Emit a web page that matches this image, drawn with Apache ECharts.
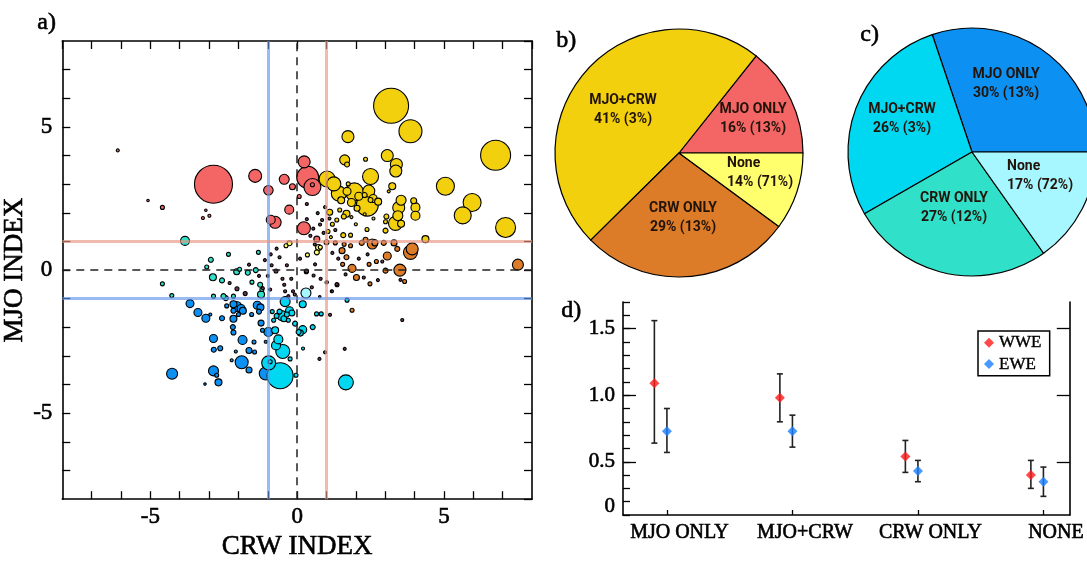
<!DOCTYPE html>
<html><head><meta charset="utf-8">
<script src="https://cdn.jsdelivr.net/npm/echarts@6/dist/echarts.min.js"></script>
<style>html,body{margin:0;padding:0;background:#fff}#c{width:1087px;height:566px}</style>
</head><body><div id="c"></div>
<script>
// ---------- Panel a: scatter [CRW index, MJO index, amplitude] ----------
const wweBoth = [[3.20,5.74,35],[3.86,4.85,23],[6.76,4.01,30],[1.73,4.66,12],[5.05,2.93,18],[5.96,2.36,18],[5.64,1.91,17],[7.10,1.49,20],[3.07,4.00,12],[3.38,3.69,12],[3.36,3.46,12],[1.62,3.85,10],[1.70,3.69,5],[2.33,3.87,4],[2.50,3.27,16],[3.24,2.93,7],[3.12,2.75,3],[1.02,3.18,16],[1.25,3.01,14],[1.42,2.67,15],[1.95,2.73,18],[1.70,2.75,8],[1.74,3.01,4],[2.10,2.58,8],[2.39,2.27,22],[2.44,2.76,12],[2.59,2.50,8],[2.76,2.39,7],[2.30,2.62,5],[2.50,2.45,5],[1.85,2.36,8],[1.50,2.44,7],[2.04,2.16,6],[1.68,1.97,7],[1.59,1.87,5],[1.11,2.02,6],[3.54,2.44,10],[3.46,2.18,12],[3.43,1.90,10],[3.35,1.63,14],[3.54,1.62,7],[3.97,2.42,6],[4.03,2.19,9],[4.03,1.90,9],[3.04,1.87,5],[3.01,1.69,4],[3.01,1.38,5],[2.38,1.42,4],[1.57,1.22,5],[1.82,1.22,4],[4.37,1.08,7],[1.20,1.60,4],[1.35,1.75,4],[1.45,2.10,4],[1.05,1.35,4],[1.15,1.15,3],[2.00,1.60,3],[2.60,1.80,3],[1.85,1.85,3],[2.30,1.95,3]];
const wweMjoOnly = [[-2.85,3.00,38],[-1.43,3.29,13],[-0.98,2.79,9.5],[-0.44,3.17,10],[-0.16,2.91,6],[-0.27,2.11,9],[-0.90,1.76,9],[-0.75,1.67,12],[0.24,3.78,12],[0.36,3.24,22],[0.52,2.90,17],[0.52,2.98,4],[0.23,1.46,13],[0.07,2.57,4],[0.67,1.08,6],[-6.11,4.18,3],[-5.08,2.43,2.5],[-4.59,2.19,4],[-3.11,2.09,2.5],[-3.21,1.82,3],[-2.99,1.90,3]];
const wweCrwOnly = [[2.56,0.91,10],[3.86,0.62,14],[3.92,0.74,12],[3.07,0.49,8],[3.41,0.74,5],[2.33,1.06,5],[1.53,0.68,6],[1.82,0.85,4],[1.68,0.45,5],[7.52,0.19,11],[3.50,0.00,12],[1.87,0.06,8],[2.02,-0.26,6],[2.48,-0.48,4],[3.01,-0.02,5],[3.66,-0.40,4],[1.36,-0.51,4],[1.87,-1.40,4],[2.70,0.30,4],[2.20,0.95,5],[2.95,0.95,5],[3.30,0.95,6],[2.65,0.95,6],[1.30,0.95,4],[1.60,0.90,4],[2.45,0.20,4],[1.55,0.20,4],[1.00,0.97,5]];
const wweNone = [[0.35,0.53,4],[0.67,0.62,5],[0.73,0.79,6],[-0.26,0.94,5],[-0.38,0.85,4],[0.79,0.80,4]];
const eweBoth = [[-4.26,-3.62,11],[-2.85,-3.52,10],[-2.74,-3.67,4],[-2.68,-3.92,7],[-3.65,-1.17,8],[-3.38,-1.48,8],[-3.11,-1.68,8],[-2.85,-2.39,8],[-2.84,-2.78,5],[-2.62,-2.73,5],[-2.56,-1.68,5],[-2.17,-1.70,7],[-2.19,-1.99,5],[-2.17,-2.18,5],[-1.86,-2.44,9],[-1.89,-3.22,13],[-1.64,-3.49,6],[-1.64,-2.81,6],[-1.45,-2.86,4],[-1.47,-2.51,4],[-1.07,-3.61,13],[-1.18,-2.10,4],[-1.23,-1.85,6],[-1.36,-1.23,8],[-1.25,-1.30,7],[-2.17,-1.19,7],[-2.06,-1.27,10],[-1.91,-1.34,8],[-1.85,-1.42,7],[-2.17,-1.42,5],[-2.40,-1.25,4],[-1.55,-1.55,4],[-1.30,-1.45,5],[-2.00,-1.55,4],[-0.98,-2.16,9],[-3.14,-3.98,2.5],[-2.23,-3.15,3],[-2.09,-2.84,3],[-1.07,-2.50,3],[-2.96,-1.55,3]];
const eweMjoOnly = [[-0.58,-3.69,26],[-0.97,-3.24,14],[-0.92,-3.20,4],[-0.49,-2.84,14],[-0.72,-2.63,9],[-0.64,-2.42,9],[-0.75,-2.10,7],[-0.41,-1.10,10],[-0.52,-1.59,10],[-0.45,-1.70,6],[-0.26,-1.42,8],[-0.18,-1.50,6],[-0.07,-1.87,5],[0.05,-2.16,5],[-0.24,-3.10,4],[-0.04,-3.67,4],[1.66,-3.92,15],[0.19,-1.19,7],[0.66,-1.53,4],[0.82,-1.53,4],[0.19,-2.08,8],[0.11,-2.20,6],[0.53,-1.99,5],[1.70,-1.05,4],[0.20,-2.74,3],[-0.70,-1.60,5],[-0.60,-1.45,5],[-0.85,-1.45,4],[-0.35,-1.55,5],[-0.30,-1.75,4],[-0.80,-1.75,4]];
const eweCrwOnly = [[-3.82,1.02,9],[-2.87,-0.25,7],[-2.56,-0.36,5],[-2.06,-0.06,6],[-1.96,0.03,4],[-1.41,0.00,5],[-2.43,-0.98,5],[-2.85,-0.91,4],[-1.23,-0.85,7],[-1.20,-0.68,4],[-4.27,-0.89,4],[-4.59,-0.48,4],[-2.17,-0.91,4],[-3.08,0.11,4],[-2.94,0.36,5],[-2.34,0.55,4],[-1.32,0.62,4],[-1.68,-0.09,5],[-2.51,-0.91,5],[-1.26,-0.51,5],[-1.54,-0.42,4]];
const eweNone = [[0.30,-0.80,10]];
const weakEvents = [[0.33,2.31,3],[0.33,1.78,3],[0.70,1.99,3],[0.78,1.59,3],[-1.64,0.19,3],[-2.30,-0.45,3],[-2.05,-0.65,4],[-1.77,-0.82,4],[-1.17,-0.63,3],[-0.92,-0.68,3],[-0.72,-0.03,4],[-0.44,-0.51,3],[-0.41,-0.74,3],[-0.08,-0.85,3],[-0.14,-0.74,3],[0.31,-0.06,4],[0.61,0.20,3],[0.56,-0.19,3],[-0.87,0.17,3],[-0.35,0.17,3],[-0.30,-0.91,3],[1.18,-0.74,3],[1.00,-0.43,3],[1.35,-0.49,3],[3.58,-1.74,3],[1.62,-2.75,3],[0.95,-2.87,3],[0.76,-3.10,3],[1.12,-1.56,3],[1.19,-0.74,2.5],[0.77,-0.93,2.5],[1.02,-0.42,2.5],[2.27,-0.26,3],[3.52,-0.34,3],[0.32,-0.03,4],[-0.60,0.45,3],[-0.90,0.55,3],[-1.10,0.35,3],[0.10,0.40,3],[0.45,1.20,3],[0.55,1.45,3],[0.90,1.30,3],[0.85,1.75,3],[1.10,1.80,3],[1.30,1.40,3],[0.95,2.20,3],[1.20,0.60,3],[1.40,0.40,3],[0.60,0.90,3],[-0.50,-0.30,3],[-1.00,-0.20,3],[-0.20,-0.30,3],[0.50,-0.60,3],[0.80,-0.30,3],[-0.70,0.75,3],[-1.30,-0.20,3],[2.40,0.55,3],[2.10,0.40,3],[2.90,0.30,3],[2.75,-0.35,3],[1.65,-0.15,3]];
const scatterTicks = [-5, 0, 5];

// ---------- Panels b, c: pies ----------
const pieNames = ['MJO ONLY', 'MJO+CRW', 'CRW ONLY', 'None'];
const wweShare = [14.3, 48.1, 27.5, 10.1];        // drawn slice sizes
const wweEventPct = [16, 41, 29, 14];
const wweDayPct = [13, 3, 13, 71];
const eweShare = [30.2, 28.1, 26.5, 15.2];
const eweEventPct = [30, 26, 27, 17];
const eweDayPct = [13, 3, 12, 72];

// ---------- Panel d: means with error bars ----------
const groups = ['MJO ONLY', 'MJO+CRW', 'CRW ONLY', 'NONE'];
const wweMean = [1.09, 0.98, 0.54, 0.40];
const wweLow  = [0.64, 0.80, 0.42, 0.30];
const wweHigh = [1.56, 1.16, 0.66, 0.51];
const eweMean = [0.73, 0.73, 0.43, 0.35];
const eweLow  = [0.57, 0.61, 0.35, 0.24];
const eweHigh = [0.90, 0.85, 0.51, 0.46];
const yTicksD = [0.5, 1.0, 1.5];

// ---------- styling / layout ----------
const SERIF = "'Liberation Serif', 'DejaVu Serif', serif";
const SANS = "'Liberation Sans Narrow', Roboto, 'Liberation Sans', sans-serif";
const THICK = {textBorderColor:'#000', textBorderWidth:0.6};
const DODGE = 0.1;
const C = {red:'#F46565', yellow:'#F2D00E', orange:'#DC7B28', lyellow:'#FFFF6E',
           blue:'#0C90F2', cyan:'#00D8F2', turq:'#30E0C8', lcyan:'#A6F7FF', weak:'#6a3a5a'};
const pieLabelPosB = [[753,119,'center'],[623,110,'center'],[683,218,'center'],[727,173,'left']];
const pieLabelPosC = [[1006,84,'center'],[902,119,'center'],[954,208,'center'],[1007,176,'left']];

const chart = echarts.init(document.getElementById('c'), null, {renderer:'canvas'});

function bubble(name, data, color){
  return {type:'scatter', name, xAxisIndex:0, yAxisIndex:0,
    data: data.slice().sort((a,b)=>b[2]-a[2]),
    symbolSize: d => d[2],
    itemStyle:{color, borderColor:'#000', borderWidth:1.1, opacity:1},
    emphasis:{disabled:true}, silent:true, z:2};
}
function pie(names, share, ev, day, colors, center, pos){
  return {type:'pie', center, radius:124, startAngle:0, clockwise:false, silent:true,
    data: names.map((n,i)=>({name:n, value:share[i], itemStyle:{color:colors[i]},
      label:{formatter: n + '\n' + ev[i] + '% (' + day[i] + '%)', align: pos[i][2]}})),
    itemStyle:{borderColor:'#000', borderWidth:1.2},
    label:{show:true, position:'inside', color:'#22140a', fontFamily:SANS, fontWeight:'bold', fontSize:14, lineHeight:19},
    labelLine:{show:false},
    labelLayout: p => ({x: pos[p.dataIndex][0], y: pos[p.dataIndex][1], align: pos[p.dataIndex][2], verticalAlign:'middle'}),
    emphasis:{disabled:true}};
}
function errBars(name, low, high, off){
  return {type:'custom', name: name+'err', xAxisIndex:2, yAxisIndex:2, silent:true,
    data: low.map((l,i)=>[i+1+off, l, high[i]]),
    renderItem: (params, api) => {
      const a = api.coord([api.value(0), api.value(1)]);
      const b = api.coord([api.value(0), api.value(2)]);
      const st = {stroke:'#222', lineWidth:1.6};
      return {type:'group', children:[
        {type:'line', shape:{x1:a[0],y1:a[1],x2:b[0],y2:b[1]}, style:st},
        {type:'line', shape:{x1:a[0]-3,y1:a[1],x2:a[0]+3,y2:a[1]}, style:st},
        {type:'line', shape:{x1:b[0]-3,y1:b[1],x2:b[0]+3,y2:b[1]}, style:st}]};
    }, z:3};
}

const axisA = (pos, isX, showLabel, name) => ({
  type:'value', gridIndex:0, position:pos, min:-8, max:8, interval:1,
  axisLine:{show:true, onZero:false, lineStyle:{color:'#000', width:1.6}},
  axisTick:{show:true, inside:true, length:8, lineStyle:{color:'#000', width:1.3}},
  splitLine:{show:false},
  axisLabel:Object.assign({show:showLabel, interval:0, showMinLabel:false, showMaxLabel:false,
    formatter: v => scatterTicks.includes(v) ? String(v) : '', color:'#000', fontFamily:SERIF, fontSize:23,
    margin: isX ? 6 : 10}, THICK),
  name: name || '', nameLocation:'middle', nameGap: isX ? 28 : 34,
  nameTextStyle:Object.assign({color:'#000', fontFamily:SERIF, fontSize:27}, THICK)
});

const yAxisD = (pos, ticks, tickLen, showLine, labels) => ({
  type:'value', gridIndex:1, position:pos, min:0.1, max:1.7, interval:0.1,
  axisLine:{show:showLine, lineStyle:{color:'#000', width:1.6}},
  axisTick:{show:true, inside:true, length:tickLen, lineStyle:{color:'#000', width:1.3}, customValues: ticks || undefined},
  splitLine:{show:false},
  axisLabel: labels ? Object.assign({show:true, customValues:[0.1].concat(yTicksD),
      formatter: v => Math.abs(v-0.1)<1e-6 ? '{z|0}' : v.toFixed(1),
      rich:{z:Object.assign({fontFamily:SERIF, fontSize:21, color:'#000', padding:[0,0,18,0]}, THICK)},
      color:'#000', fontFamily:SERIF, fontSize:21, margin:8}, THICK) : {show:false}
});

const option = {
  backgroundColor:'#fff',
  animation:false,
  grid:[{left:62, top:41, width:470, height:469}, {left:623, top:302, width:459, height:213}],
  xAxis:[
    axisA('bottom', true, true, 'CRW INDEX'),
    axisA('top', true, false),
    {type:'value', gridIndex:1, position:'bottom', min:0.65, max:4.21,
     axisLine:{show:true, onZero:false, lineStyle:{color:'#000', width:1.6}},
     axisTick:{show:true, inside:true, length:5, customValues:[1,2,3,4], lineStyle:{color:'#000', width:1.3}},
     splitLine:{show:false},
     axisLabel:Object.assign({show:true, customValues:[1,2,3,4], formatter: v => groups[Math.round(v)-1], color:'#000',
       fontFamily:SERIF, fontSize:20, margin:8, padding:[0,0,0,25]}, THICK)}
  ],
  yAxis:[
    axisA('left', false, true, 'MJO INDEX'),
    axisA('right', false, false),
    yAxisD('left', null, 7, true, true),
    yAxisD('left', yTicksD, 13, false, false),
    yAxisD('right', yTicksD, 13, true, false)
  ],
  legend:{data:[{name:'WWE', icon:'diamond', itemStyle:{color:'#FF1A1A'}},{name:'EWE', icon:'diamond', itemStyle:{color:'#1A80FF'}}],
    orient:'vertical', left:978, top:331, itemWidth:10, itemHeight:10, itemGap:4,
    padding:[3,8,3,6], borderColor:'#000', borderWidth:1.5, backgroundColor:'#fff',
    textStyle:Object.assign({fontFamily:SERIF, fontSize:17, color:'#000'}, {textBorderColor:'#000', textBorderWidth:0.4}), selectedMode:false},
  graphic:[
    {type:'text', left:37, top:10, style:{text:'a)', font:'24px '+SERIF, fill:'#000', stroke:'#000', lineWidth:0.6}},
    {type:'text', left:556, top:28, style:{text:'b)', font:'24px '+SERIF, fill:'#000', stroke:'#000', lineWidth:0.6}},
    {type:'text', left:860, top:22, style:{text:'c)', font:'24px '+SERIF, fill:'#000', stroke:'#000', lineWidth:0.6}},
    {type:'text', left:561, top:298, style:{text:'d)', font:'24px '+SERIF, fill:'#000', stroke:'#000', lineWidth:0.6}}
  ],
  series:[
    bubble('WWE MJO+CRW', wweBoth, C.yellow),
    bubble('WWE MJO only', wweMjoOnly, C.red),
    bubble('WWE CRW only', wweCrwOnly, C.orange),
    bubble('WWE none', wweNone, C.lyellow),
    bubble('EWE MJO+CRW', eweBoth, C.blue),
    bubble('EWE MJO only', eweMjoOnly, C.cyan),
    bubble('EWE CRW only', eweCrwOnly, C.turq),
    bubble('EWE none', eweNone, C.lcyan),
    bubble('weak', weakEvents, C.weak),
    {type:'scatter', xAxisIndex:0, yAxisIndex:0, data:[], silent:true, z:4,
     markLine:{silent:true, symbol:'none', label:{show:false},
       data:[
         {xAxis:0, lineStyle:{color:'#222', width:1.5, type:[8,6], opacity:1}},
         {yAxis:0, lineStyle:{color:'#222', width:1.5, type:[8,6], opacity:1}},
         {xAxis:-1, lineStyle:{color:'rgba(100,150,235,0.65)', width:3, type:'solid'}},
         {yAxis:-1, lineStyle:{color:'rgba(100,150,235,0.65)', width:3, type:'solid'}},
         {xAxis:1, lineStyle:{color:'rgba(232,150,130,0.65)', width:3, type:'solid'}},
         {yAxis:1, lineStyle:{color:'rgba(232,150,130,0.65)', width:3, type:'solid'}}
       ]}},
    pie(pieNames, wweShare, wweEventPct, wweDayPct, [C.red, C.yellow, C.orange, C.lyellow], [679,153], pieLabelPosB),
    pie(pieNames, eweShare, eweEventPct, eweDayPct, [C.blue, C.cyan, C.turq, C.lcyan], [972,152], pieLabelPosC),
    errBars('WWE', wweLow, wweHigh, -DODGE),
    errBars('EWE', eweLow, eweHigh, 0),
    {type:'scatter', name:'WWE', xAxisIndex:2, yAxisIndex:2, symbol:'diamond', symbolSize:10,
     data: wweMean.map((v,i)=>[i+1-DODGE, v]), itemStyle:{color:'#FF1A1A'}, silent:true, z:4},
    {type:'scatter', name:'EWE', xAxisIndex:2, yAxisIndex:2, symbol:'diamond', symbolSize:10,
     data: eweMean.map((v,i)=>[i+1, v]), itemStyle:{color:'#1A80FF'}, silent:true, z:4}
  ]
};
chart.setOption(option);
</script></body></html>
